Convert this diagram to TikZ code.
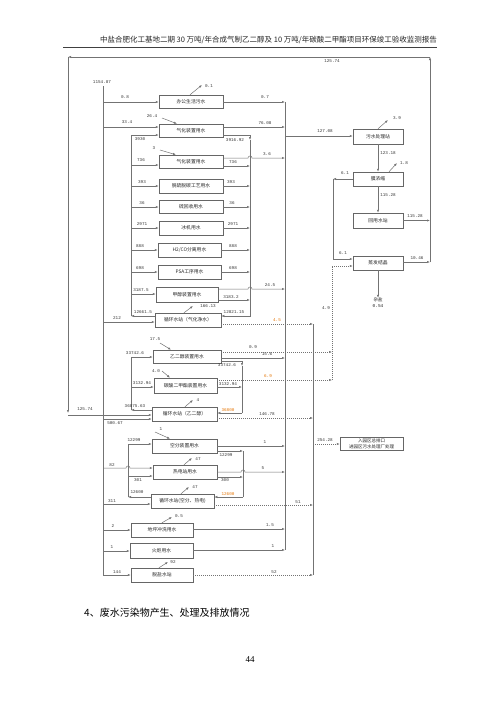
\documentclass[tikz,border=0pt]{standalone}
\usepackage{fontspec}
\setmainfont{Liberation Serif}
\newfontfamily\cjk{Noto Sans CJK SC}
\newfontfamily\monof{Liberation Mono}
\usetikzlibrary{arrows.meta}
\newcommand\nlab[4]{\node[num] (#1) at (#2,#3) {#4};}
\newcommand\olab[4]{\node[onum] (#1) at (#2,#3) {#4};}
\newcommand\bx[6]{\node[box,minimum width=#4pt,minimum height=#5pt] (#1) at (#2,#3) {#6};}
\begin{document}
\begin{tikzpicture}[x=1pt,y=-1pt,
  >={Latex[length=3pt,width=2.2pt]},
  ln/.style={draw=black!55,line width=0.5pt},
  arr/.style={ln,->},
  dsh/.style={ln,dash pattern=on 1pt off 1pt},
  dsharr/.style={dsh,->},
  box/.style={draw=black!60,line width=0.5pt,inner sep=0pt,font=\cjk\fontsize{4.8}{5}\selectfont,text=black!85},
  num/.style={inner sep=0pt,font=\monof\fontsize{4.3}{5}\selectfont,text=black!80},
  onum/.style={num,text=orange!90!black}]
\fill[white] (0,0) rectangle (500,707);
\useasboundingbox (0,0) rectangle (500,707);

% header
\node[anchor=east,inner sep=0pt,font=\cjk\fontsize{7.5}{8}\selectfont,text=black!85] (hdr) at (437,40) {中盐合肥化工基地二期 30 万吨/年合成气制乙二醇及 10 万吨/年碳酸二甲酯项目环保竣工验收监测报告};
\draw[black!75,line width=0.8pt] (63,47) -- (437,47);

% boxes
\bx{office}{191}{101.5}{64}{13}{办公生活污水}
\bx{gasa}{191}{130.5}{64}{13}{气化装置用水}
\bx{gasb}{191}{161.5}{64}{13}{气化装置用水}
\bx{desulf}{191}{186}{64}{14}{脱硫脱碳工艺用水}
\bx{sulfur}{191}{206.5}{64}{13}{硫回收用水}
\bx{chiller}{191}{228}{64}{14}{冰机用水}
\bx{hco}{189.5}{250}{63}{14}{H2/CO分离用水}
\bx{psa}{189.5}{272}{63}{14}{PSA工序用水}
\bx{meth}{187}{294.5}{62}{15}{甲醇装置用水}
\bx{cwa}{188}{320}{66}{14}{循环水站（气化净水）}
\bx{eg}{187}{356.5}{68}{13}{乙二醇装置用水}
\bx{dmc}{185.5}{385.5}{63}{15}{碳酸二甲酯装置用水}
\bx{cwb}{184.5}{414}{65}{14}{循环水站（乙二醇）}
\bx{asu}{184.5}{446}{65}{14}{空分装置用水}
\bx{power}{185}{472}{64}{14}{热电站用水}
\bx{cwc}{182.5}{501}{63}{14}{循环水站(空分、热电)}
\bx{floor}{162}{530}{62}{14}{地坪冲洗用水}
\bx{flare}{161.5}{550.5}{63}{15}{火炬用水}
\bx{demin}{162}{575}{62}{14}{脱盐水站}
\bx{wwtp}{378}{136.5}{50}{15}{污水处理站}
\bx{memb}{378}{179}{50}{14}{膜浓缩}
\bx{reuse}{378}{220.5}{50}{15}{回用水站}
\bx{evap}{378}{263}{50}{14}{蒸发结晶}
\node[box,minimum width=63pt,minimum height=13pt,align=center,font=\cjk\fontsize{4.5}{5.6}\selectfont] (outfall) at (371.5,443.5) {入园区总排口\\进园区污水处理厂处理};
\node[inner sep=0pt,align=center,font=\cjk\fontsize{4.5}{6}\selectfont,text=black!85] (salt) at (378,303) {杂盐\\{\monof 0.54}};

% main supply bus
\coordinate (Mtop) at (103,86);
\coordinate (Mbot) at (103,575);
\nlab{n1154}{102}{82}{1154.87}
\draw[arr] (Mtop) -- (Mbot) -- (demin.west|-Mbot);
\draw[arr] (103,102) -- (office.west|-0,102); \nlab{n08}{125}{97}{0.8}
\draw[arr] (103,127) -- (gasa.west|-0,127); \nlab{n334}{127}{122}{33.4}
\draw[arr] (103,322) -- (cwa.west|-0,322); \nlab{n212}{117}{318}{212}
\draw[arr] (103,419) -- (cwb.west|-0,419); \nlab{n50067}{115}{423}{500.67}
\draw[arr] (103,468) -- (126,468) arc[start angle=180,end angle=0,radius=2pt] -- (power.west|-0,468); \nlab{n82}{112}{465}{82}
\draw[arr] (103,504) -- (cwc.west|-0,504); \nlab{n311}{112}{501}{311}
\draw[arr] (103,530) -- (floor.west|-0,530); \nlab{n2}{113}{526}{2}
\draw[arr] (103,551) -- (flare.west|-0,551); \nlab{n1f}{112}{547}{1}
\nlab{n144}{117}{572}{144}

% gasification loop supply bus A
\draw[ln] (131,135) -- (131,316);
\draw[arr] (131,135) -- (gasa.west|-0,135); \nlab{n3930}{140}{139}{3930}
\draw[arr] (131,165) -- (gasb.west|-0,165); \nlab{n736l}{141}{160}{736}
\draw[arr] (131,186) -- (desulf.west|-0,186); \nlab{n393l}{142}{182}{393}
\draw[arr] (131,207) -- (sulfur.west|-0,207); \nlab{n36l}{142}{203}{36}
\draw[arr] (131,228) -- (chiller.west|-0,228); \nlab{n2971l}{142}{224}{2971}
\draw[arr] (131,250) -- (hco.west|-0,250); \nlab{n888l}{140}{246}{888}
\draw[arr] (131,272) -- (psa.west|-0,272); \nlab{n698l}{140}{268}{698}
\draw[arr] (131,294) -- (meth.west|-0,294); \nlab{n3187}{141}{290}{3187.5}
\draw[arr] (cwa.west|-0,316) -- (131,316); \nlab{n12661}{143}{312}{12661.5}

% return bus B
\draw[ln] (gasa.east|-0,135) -- (250,135);
\draw[arr] (250,135) -- (250,140);
\draw[ln] (250,140) -- (250,313);
\draw[arr] (250,313) -- (250,316) -- (cwa.east|-0,316);
\nlab{n391692}{235}{140}{3916.92}
\nlab{n1282115}{234}{312}{12821.15}
\draw[arr] (gasb.east|-0,166) -- (250,166); \nlab{n736r}{233}{162}{736}
\draw[arr] (desulf.east|-0,186) -- (250,186); \nlab{n393r}{231}{182}{393}
\draw[arr] (sulfur.east|-0,207) -- (250,207); \nlab{n36r}{232}{203}{36}
\draw[arr] (chiller.east|-0,228) -- (250,228); \nlab{n2971r}{233}{224}{2971}
\draw[arr] (hco.east|-0,250) -- (250,250); \nlab{n888r}{233}{246}{888}
\draw[arr] (psa.east|-0,272) -- (250,272); \nlab{n698r}{233}{268}{698}
\draw[arr] (meth.east|-0,300) -- (250,300); \nlab{n31832}{231}{297}{3183.2}

% collection bus C
\draw[ln] (285,102) -- (285,550);
\draw[arr] (office.east|-0,102) -- (285,102); \nlab{n07}{265}{97}{0.7}
\draw[arr] (gasa.east|-0,127) -- (285,127); \nlab{n7608}{265}{123}{76.08}
\draw[arr] (gasb.east|-0,158) -- (248,158) arc[start angle=180,end angle=0,radius=2pt] -- (285,158); \nlab{n36}{267}{154}{3.6}
\draw[arr] (meth.east|-0,289) -- (248,289) arc[start angle=180,end angle=0,radius=2pt] -- (285,289); \nlab{n245}{270}{285}{24.5}
\draw[arr] (eg.east|-0,358) -- (285,358); \nlab{n156}{267}{354}{15.6}
\draw[arr] (asu.east|-0,446) -- (285,446); \nlab{n1a}{265}{442}{1}
\draw[arr] (power.east|-0,472) -- (241,472) arc[start angle=180,end angle=0,radius=2pt] -- (285,472); \nlab{n5}{263}{468}{5}
\draw[arr] (floor.east|-0,529) -- (285,529); \nlab{n15}{270}{525}{1.5}
\draw[arr] (flare.east|-0,550) -- (285,550); \nlab{n1b}{273}{546}{1}
\draw[arr] (285,136) -- (wwtp.west|-0,136); \nlab{n12708}{325}{131}{127.08}

% treatment chain
\draw[arr] (wwtp.south) -- (memb.north); \nlab{n12318}{388}{153}{123.18}
\draw[arr] (memb.south) -- (reuse.north); \nlab{n11528a}{388}{195}{115.28}
\draw[arr] (memb.west) -- (333,179); \nlab{n61a}{345}{173}{6.1}
\draw[arr] (333,179) -- (333,259) -- (evap.west|-0,259); \nlab{n61b}{343}{253}{6.1}
\draw[arr] (evap.south) -- (salt.north);
\coordinate (R) at (430,262);
\coordinate (Rtop) at (430,57);
\coordinate (Ltop) at (68,57);
\coordinate (Lbot) at (68,413);
\draw[arr] (evap.east|-R) -- (R); \nlab{n1046}{417}{258}{10.46}
\draw[arr] (reuse.east) -- (reuse.east-|R); \nlab{n11528b}{415}{216}{115.28}
\draw[arr] (R) -- (Rtop);
\draw[arr] (Rtop) -- (Ltop); \nlab{n12574a}{332}{61}{125.74}
\draw[arr] (Ltop) -- (Lbot);
\draw[arr] (68,415) -- (cwb.west|-0,415); \nlab{n12574b}{85}{409}{125.74}

% dashed to evaporation
\draw[dsharr] (eg.east|-0,352) -- (332,352); \nlab{n09}{253}{347}{0.9}
\draw[dsharr] (dmc.east|-0,380) -- (332,380); \olab{n69}{268}{376}{6.9}
\draw[dsharr] (332,380) -- (332,266) -- (evap.west|-0,266); \nlab{n49}{326}{308}{4.9}

% outfall bus D
\draw[ln] (313,324) -- (313,575);
\draw[dsharr] (cwa.east|-0,324) -- (313,324); \olab{n45}{277}{320}{4.5}
\draw[dsharr] (cwb.east|-0,418) -- (313,418); \nlab{n14678}{267}{414}{146.78}
\draw[dsharr] (cwc.east|-0,505) -- (313,505); \nlab{n51}{298}{502}{51}
\draw[dsharr] (demin.east) -- (313,575); \nlab{n52}{274}{572}{52}
\draw[dsharr] (313,444) -- (outfall.west|-0,444); \nlab{n25428}{325}{440}{254.28}

% ethylene glycol loop
\draw[ln] (131,357) -- (131,410);
\draw[arr] (131,357) -- (eg.west|-0,357); \nlab{n33742l}{135}{353}{33742.6}
\draw[arr] (131,387) -- (dmc.west|-0,387); \nlab{n313294l}{142}{383}{3132.94}
\draw[arr] (cwb.west|-0,410) -- (131,410); \nlab{n3687563}{135}{406}{36875.63}
\draw[ln] (eg.east|-0,361) -- (242,361);
\draw[arr] (242,361) -- (242,366);
\draw[ln] (242,366) -- (242,413);
\draw[arr] (242,413) -- (cwb.east|-0,413); \olab{n36800}{228}{410}{36800}
\nlab{n33742r}{227}{365}{33742.6}
\draw[arr] (dmc.east|-0,387) -- (242,387); \nlab{n313294r}{228}{384}{3132.94}

% air separation / power loop
\draw[ln] (128,444) -- (128,497);
\draw[arr] (128,444) -- (asu.west|-0,444); \nlab{n12299l}{134}{440}{12299}
\draw[arr] (128,476) -- (power.west|-0,476); \nlab{n301}{138}{480}{301}
\draw[arr] (cwc.west|-0,497) -- (128,497); \nlab{n12600l}{137}{492}{12600}
\draw[arr] (asu.east|-0,451) -- (243,451); \nlab{n12299r}{226}{455}{12299}
\draw[arr] (power.east|-0,477) -- (243,477); \nlab{n300}{225}{480}{300}
\draw[ln] (243,451) -- (243,497);
\draw[arr] (243,497) -- (cwc.east|-0,497); \olab{n12600r}{228}{494}{12600}

% small in/out arrows
\coordinate (t01) at (202,85);   \draw[arr] (office.north-|190,0) -- (t01); \nlab{n01}{209}{86}{0.1}
\coordinate (s264) at (162,118); \draw[arr] (s264) -- (gasa.north-|177,0); \nlab{n264}{152}{116}{26.4}
\coordinate (s3) at (160,150);   \draw[arr] (s3) -- (gasb.north-|176,0); \nlab{n3}{154}{148}{3}
\coordinate (t166) at (193,306); \draw[arr] (cwa.north-|184,0) -- (t166); \nlab{n16613}{208}{306}{166.13}
\coordinate (s175) at (160,343); \draw[arr] (s175) -- (eg.north-|171,0); \nlab{n175}{155}{339}{17.5}
\coordinate (s40) at (162,371);  \draw[arr] (s40) -- (dmc.north-|170,0); \nlab{n40}{156}{371}{4.0}
\coordinate (t4) at (193,400);   \draw[arr] (cwb.north-|185,0) -- (t4); \nlab{n4}{198}{400}{4}
\coordinate (s1) at (155,432);   \draw[arr] (s1) -- (asu.north-|170,0); \nlab{n1c}{161}{429}{1}
\coordinate (t47a) at (192,458); \draw[arr] (power.north-|184,0) -- (t47a); \nlab{n47a}{198}{459}{47}
\coordinate (t47b) at (189,487); \draw[arr] (cwc.north-|181,0) -- (t47b); \nlab{n47b}{195}{487}{47}
\coordinate (t05) at (172,517);  \draw[arr] (floor.north-|162,0) -- (t05); \nlab{n05}{179}{516}{0.5}
\coordinate (t92) at (168,562);  \draw[arr] (demin.north-|159,0) -- (t92); \nlab{n92}{173}{562}{92}
\coordinate (t39) at (388,120);  \draw[arr] (wwtp.north-|378,0) -- (t39); \nlab{n39}{397}{118}{3.9}
\coordinate (t18) at (397,163);  \draw[arr] (memb.north-|389,0) -- (t18); \nlab{n18}{404}{163}{1.8}

% text below
\node[anchor=west,inner sep=0pt,font=\cjk\fontsize{10}{12}\selectfont] (sec) at (84,613) {4、废水污染物产生、处理及排放情况};
\node[inner sep=0pt,font=\fontsize{9}{10}\selectfont] (pg) at (250,660) {44};
\end{tikzpicture}
\end{document}
